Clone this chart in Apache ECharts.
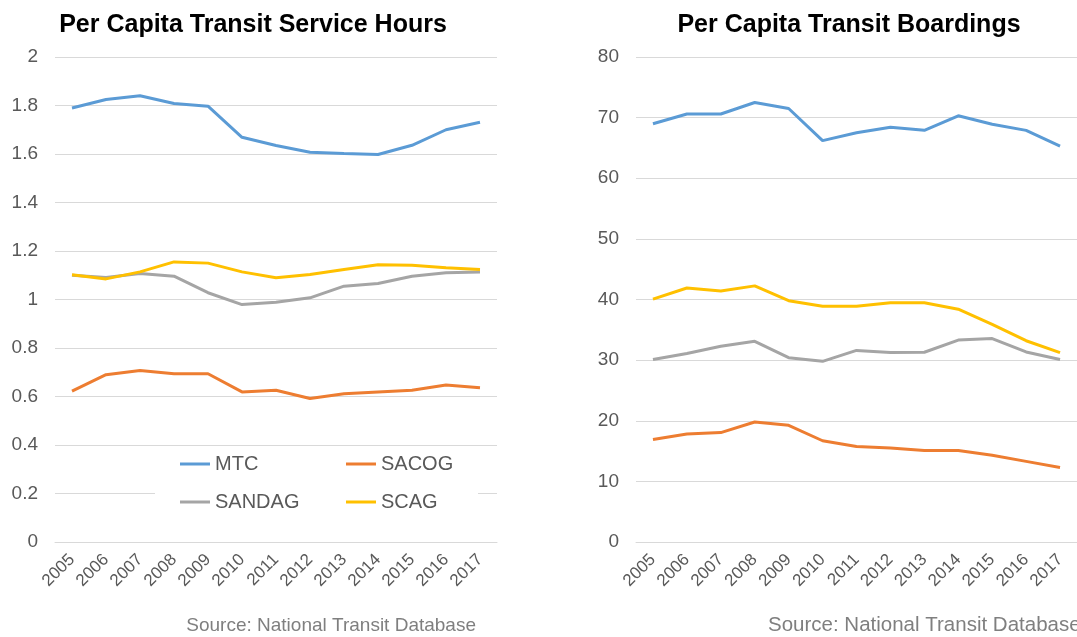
<!DOCTYPE html>
<html>
<head>
<meta charset="utf-8">
<script src="https://cdn.jsdelivr.net/npm/echarts@6/dist/echarts.min.js"></script>
<style>
  html, body { margin: 0; padding: 0; background: #fff; }
  #chart { width: 1077px; height: 637px; }
</style>
</head>
<body>
<div id="chart"></div>
<script>
//  Data

var years = ['2005','2006','2007','2008','2009','2010','2011','2012','2013','2014','2015','2016','2017'];
var seriesNames = ['MTC', 'SACOG', 'SANDAG', 'SCAG'];

// per capita service hours
var hoursMTC    = [1.790, 1.825, 1.840, 1.808, 1.797, 1.669, 1.635, 1.607, 1.602, 1.598, 1.636, 1.700, 1.731];
var hoursSACOG  = [0.622, 0.690, 0.707, 0.694, 0.694, 0.619, 0.626, 0.592, 0.611, 0.619, 0.626, 0.647, 0.636];
var hoursSANDAG = [1.100, 1.091, 1.107, 1.096, 1.028, 0.979, 0.989, 1.007, 1.055, 1.066, 1.096, 1.110, 1.113];
var hoursSCAG   = [1.102, 1.085, 1.114, 1.155, 1.150, 1.114, 1.090, 1.103, 1.124, 1.143, 1.141, 1.131, 1.124];

// per capita boardings
var boardMTC    = [69.0, 70.6, 70.6, 72.5, 71.5, 66.2, 67.5, 68.4, 67.9, 70.3, 68.9, 67.9, 65.3];
var boardSACOG  = [16.9, 17.8, 18.05, 19.8, 19.25, 16.7, 15.75, 15.5, 15.1, 15.1, 14.3, 13.3, 12.3];
var boardSANDAG = [30.1, 31.1, 32.3, 33.1, 30.4, 29.8, 31.6, 31.25, 31.3, 33.3, 33.55, 31.35, 30.1];
var boardSCAG   = [40.05, 41.9, 41.4, 42.25, 39.8, 38.9, 38.9, 39.45, 39.45, 38.4, 35.9, 33.2, 31.25];

var colors = ['#5B9BD5', '#ED7D31', '#A5A5A5', '#FFC000'];
var font = '"Liberation Sans", Arial, sans-serif';

//  Chart

var myChart = echarts.init(document.getElementById('chart'), null, {renderer: 'canvas'});

function lineSeries(name, data, idx, color) {
  return {
    name: name,
    type: 'line',
    xAxisIndex: idx,
    yAxisIndex: idx,
    data: data,
    symbol: 'none',
    smooth: false,
    lineStyle: { color: color, width: 3 },
    itemStyle: { color: color }
  };
}

function xAxisFor(idx) {
  return {
    type: 'category',
    gridIndex: idx,
    data: years,
    boundaryGap: true,
    axisLine: { lineStyle: { color: '#D9D9D9' } },
    axisTick: { show: false },
    axisLabel: { rotate: 45, margin: 15, color: '#595959', fontSize: 17, fontFamily: font, interval: 0 }
  };
}

function yAxisFor(idx, max, step) {
  return {
    type: 'value',
    gridIndex: idx,
    min: 0,
    max: max,
    interval: step,
    axisLine: { show: false },
    axisTick: { show: false },
    splitLine: { lineStyle: { color: '#D9D9D9', width: 1 } },
    axisLabel: { margin: 17, color: '#595959', fontSize: 19, fontFamily: font }
  };
}

// legend: narrow text box on the right column so the white box stops at the plot edge
var legendData = seriesNames.map(function(name, i) {
  var item = { name: name };
  if (i % 2 === 1) item.textStyle = { width: 80 };
  return item;
});

var option = {
  backgroundColor: '#fff',
  animation: false,
  title: [
    { text: 'Per Capita Transit Service Hours', left: 248, top: 8, textAlign: 'center',
      textStyle: { fontFamily: font, fontSize: 25, fontWeight: 'bold', color: '#000' } },
    { text: 'Per Capita Transit Boardings', left: 844, top: 8, textAlign: 'center',
      textStyle: { fontFamily: font, fontSize: 25, fontWeight: 'bold', color: '#000' } }
  ],
  grid: [
    { left: 55, top: 57, width: 442, height: 485 },
    { left: 636, top: 57, width: 447, height: 485 }
  ],
  xAxis: [xAxisFor(0), xAxisFor(1)],
  yAxis: [yAxisFor(0, 2, 0.2), yAxisFor(1, 80, 10)],
  legend: {
    data: legendData,
    left: 155,
    top: 449,
    width: 330,
    orient: 'horizontal',
    padding: [0, 17, 0, 25],
    backgroundColor: '#fff',
    icon: 'rect',
    itemWidth: 30,
    itemHeight: 3,
    itemGap: 8,
    textStyle: { fontFamily: font, fontSize: 20, color: '#595959', width: 123, lineHeight: 30 }
  },
  series: [
    lineSeries('MTC', hoursMTC, 0, colors[0]),
    lineSeries('SACOG', hoursSACOG, 0, colors[1]),
    lineSeries('SANDAG', hoursSANDAG, 0, colors[2]),
    lineSeries('SCAG', hoursSCAG, 0, colors[3]),
    lineSeries('MTC', boardMTC, 1, colors[0]),
    lineSeries('SACOG', boardSACOG, 1, colors[1]),
    lineSeries('SANDAG', boardSANDAG, 1, colors[2]),
    lineSeries('SCAG', boardSCAG, 1, colors[3])
  ],
  graphic: [
    { type: 'text', right: 1077 - 476, top: 616,
      style: { text: 'Source: National Transit Database', fill: '#7F7F7F', font: '19px ' + font } },
    { type: 'text', left: 768, top: 615,
      style: { text: 'Source: National Transit Database', fill: '#7F7F7F', font: '20.5px ' + font } }
  ]
};

myChart.setOption(option);
</script>
</body>
</html>
